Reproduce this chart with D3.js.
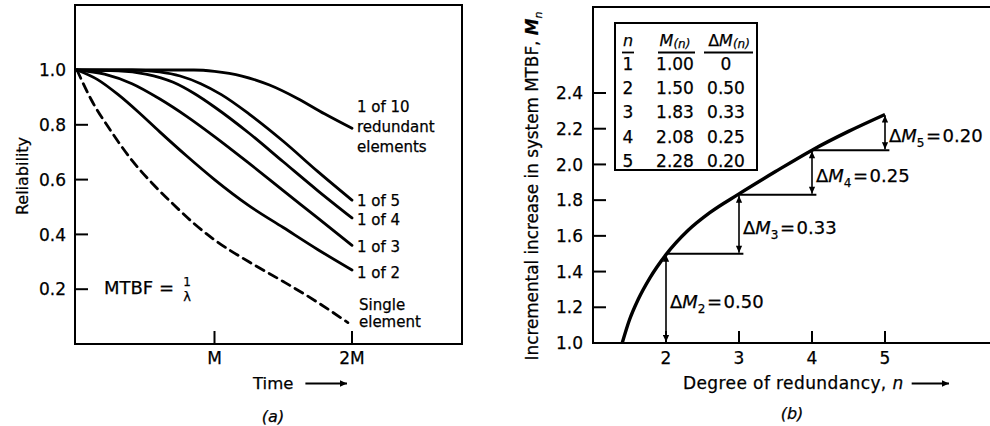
<!DOCTYPE html>
<html><head><meta charset="utf-8">
<script src="https://cdn.jsdelivr.net/npm/d3@7"></script>
<style>
body{margin:0;background:#fff}
svg{display:block}
text{font-family:"DejaVu Sans",sans-serif;fill:#000;stroke:#000;stroke-width:0.25px}
</style>
</head><body>
<svg id="c" width="990" height="426"></svg>
<script>
// ---------- Chart (a) data ----------
const relTicks = [0.2, 0.4, 0.6, 0.8, 1.0];
const timeTicks = [1, 2];
const timeTickLabels = ["M", "2M"];

const t1of10 = [0, 0.5, 0.85, 1.0, 1.2, 1.4, 1.6, 1.8, 2.0];
const r1of10 = [1, 1, 1, 0.995, 0.978, 0.945, 0.897, 0.84, 0.787];
const t1of5 = [0, 0.4, 0.6, 0.75, 0.9, 1.05, 1.25, 1.5, 1.75, 2.0];
const r1of5 = [1, 1, 0.993, 0.978, 0.95, 0.91, 0.84, 0.74, 0.63, 0.525];
const t1of4 = [0, 0.3, 0.5, 0.7, 0.85, 1.0, 1.25, 1.5, 1.75, 2.0];
const r1of4 = [1, 0.997, 0.985, 0.955, 0.915, 0.865, 0.77, 0.665, 0.56, 0.46];
const t1of3 = [0, 0.2, 0.4, 0.6, 0.8, 1.0, 1.25, 1.5, 1.75, 2.0];
const r1of3 = [1, 0.985, 0.95, 0.895, 0.83, 0.757, 0.66, 0.56, 0.46, 0.36];
const t1of2 = [0, 0.15, 0.3, 0.45, 0.6, 0.8, 1.0, 1.25, 1.5, 1.75, 2.0];
const r1of2 = [1, 0.965, 0.91, 0.845, 0.775, 0.685, 0.6, 0.505, 0.425, 0.345, 0.27];
const tSingle = [0, 0.1, 0.25, 0.4, 0.55, 0.7, 0.85, 1.0, 1.25, 1.5, 1.75, 1.97];
const rSingle = [1, 0.895, 0.775, 0.67, 0.585, 0.51, 0.44, 0.38, 0.30, 0.228, 0.152, 0.078];

const curveLabels = [["1 of 10", "redundant", "elements"], ["1 of 5"], ["1 of 4"], ["1 of 3"], ["1 of 2"], ["Single", "element"]];

// ---------- Chart (b) data ----------
const mTicks = [1.0, 1.2, 1.4, 1.6, 1.8, 2.0, 2.2, 2.4];
const nTicks = [2, 3, 4, 5];
const nValues = [1, 2, 3, 4, 5];
const mValues = [1.00, 1.50, 1.83, 2.08, 2.28];
const dmValues = [0, 0.50, 0.33, 0.25, 0.20];
const curveN = [1.40, 1.50, 1.62, 1.78, 2.0, 2.3, 2.6, 3.0, 3.5, 4.0, 4.5, 5.0];
const curveM = [1.00, 1.13, 1.245, 1.365, 1.495, 1.63, 1.73, 1.835, 1.96, 2.08, 2.185, 2.28];

const svg = d3.select("#c");
const defs = svg.append("defs");
defs.append("marker").attr("id", "ah")
  .attr("viewBox", "0 0 10 10").attr("refX", 10).attr("refY", 5)
  .attr("markerUnits", "userSpaceOnUse").attr("markerWidth", 9).attr("markerHeight", 7)
  .attr("orient", "auto-start-reverse")
  .append("path").attr("d", "M0,0.5 L10,5 L0,9.5 Z").attr("fill", "#000");

// ================= Chart (a) =================
const xL = d3.scaleLinear().domain([0, 2]).range([77, 352]);
const yL = d3.scaleLinear().domain([0, 1]).range([344, 70]);
const gA = svg.append("g");

gA.append("rect").attr("x", 75).attr("y", 5).attr("width", 387).attr("height", 339)
  .attr("fill", "none").attr("stroke", "#000").attr("stroke-width", 2);

relTicks.forEach(v => {
  gA.append("line").attr("x1", 75).attr("x2", 88).attr("y1", yL(v)).attr("y2", yL(v))
    .attr("stroke", "#000").attr("stroke-width", 2);
  gA.append("text").attr("x", 66).attr("y", yL(v)).attr("dy", "0.36em")
    .attr("text-anchor", "end").attr("font-size", 17).text(v.toFixed(1));
});
timeTicks.forEach((v, i) => {
  gA.append("line").attr("x1", xL(v)).attr("x2", xL(v)).attr("y1", yL(0)).attr("y2", yL(0) - 13)
    .attr("stroke", "#000").attr("stroke-width", 2);
  gA.append("text").attr("x", xL(v)).attr("y", 364).attr("text-anchor", "middle")
    .attr("font-size", 17).text(timeTickLabels[i]);
});

const seriesA = [[t1of10, r1of10], [t1of5, r1of5], [t1of4, r1of4], [t1of3, r1of3], [t1of2, r1of2], [tSingle, rSingle]];
const lineA = d3.line().x(d => xL(d[0])).y(d => yL(d[1])).curve(d3.curveMonotoneX);
seriesA.forEach((s, i) => {
  const pts = s[0].map((t, j) => [t, s[1][j]]);
  gA.append("path").attr("d", lineA(pts)).attr("fill", "none").attr("stroke", "#000")
    .attr("stroke-width", 2.8).attr("stroke-linecap", "round")
    .attr("stroke-dasharray", i === 5 ? "9,6" : null);
});

// curve labels
const labelY = [[107, 127, 147], [201], [220], [247], [273], [305, 322]];
curveLabels.forEach((lines, i) => {
  lines.forEach((txt, j) => {
    gA.append("text").attr("x", i === 5 ? 359 : 357).attr("y", labelY[i][j]).attr("dy", "0.36em")
      .attr("font-size", 15).text(txt);
  });
});

gA.append("text").attr("transform", "translate(22,176) rotate(-90)").attr("text-anchor", "middle")
  .attr("dy", "0.36em").attr("font-size", 16).text("Reliability");

gA.append("text").attr("x", 104).attr("y", 294).attr("font-size", 18).text("MTBF =");
gA.append("text").attr("x", 187).attr("y", 286).attr("text-anchor", "middle").attr("font-size", 12).text("1");
gA.append("text").attr("x", 187).attr("y", 301).attr("text-anchor", "middle").attr("font-size", 13).text("λ");

const timeT = gA.append("text").attr("x", 253).attr("y", 389).attr("font-size", 16.5).text("Time");
const tw = timeT.node().getComputedTextLength();
gA.append("line").attr("x1", 253 + tw + 12).attr("x2", 347).attr("y1", 383.5).attr("y2", 383.5)
  .attr("stroke", "#000").attr("stroke-width", 1.8).attr("marker-end", "url(#ah)");
gA.append("text").attr("x", 273).attr("y", 422).attr("text-anchor", "middle")
  .attr("font-size", 16).attr("font-style", "italic").text("(a)");

// ================= Chart (b) =================
const xR = d3.scaleLinear().domain([1, 5]).range([593, 885]);
const yR = d3.scaleLinear().domain([1.0, 2.4]).range([343, 93]);
const gB = svg.append("g");
const left = xR(1), bot = yR(1.0);

gB.append("path").attr("d", `M990,7 H${left} V${bot} H990`).attr("fill", "none")
  .attr("stroke", "#000").attr("stroke-width", 2);

mTicks.forEach(v => {
  gB.append("line").attr("x1", left).attr("x2", left + 13).attr("y1", yR(v)).attr("y2", yR(v))
    .attr("stroke", "#000").attr("stroke-width", 2);
  gB.append("text").attr("x", 583).attr("y", yR(v)).attr("dy", "0.36em").attr("text-anchor", "end")
    .attr("font-size", 17).text(v.toFixed(1));
});
nTicks.forEach(v => {
  gB.append("line").attr("x1", xR(v)).attr("x2", xR(v)).attr("y1", bot).attr("y2", bot - 12)
    .attr("stroke", "#000").attr("stroke-width", 2);
  gB.append("text").attr("x", xR(v)).attr("y", 364).attr("text-anchor", "middle")
    .attr("font-size", 17).text(v);
});

// curve
const lineB = d3.line().x(d => xR(d[0])).y(d => yR(d[1])).curve(d3.curveMonotoneX);
gB.append("path").attr("d", lineB(curveN.map((n, i) => [n, curveM[i]])))
  .attr("fill", "none").attr("stroke", "#000").attr("stroke-width", 3.4);

// steps and arrows
for (let i = 1; i < nValues.length; i++) {
  const n = nValues[i];
  if (i < nValues.length - 1) {
    gB.append("line").attr("x1", xR(n)).attr("x2", xR(n + 1.06)).attr("y1", yR(mValues[i])).attr("y2", yR(mValues[i]))
      .attr("stroke", "#000").attr("stroke-width", 2);
  }
  gB.append("line").attr("x1", xR(n)).attr("x2", xR(n))
    .attr("y1", yR(mValues[i - 1]) - 1).attr("y2", yR(mValues[i]) + 1)
    .attr("stroke", "#000").attr("stroke-width", 1.6)
    .attr("marker-start", "url(#ah)").attr("marker-end", "url(#ah)");
  const t = gB.append("text").attr("x", xR(n) + 4)
    .attr("y", yR((mValues[i - 1] + mValues[i]) / 2) + 3).attr("dy", "0.36em").attr("font-size", 18);
  t.append("tspan").text("Δ");
  t.append("tspan").attr("font-style", "italic").text("M");
  t.append("tspan").attr("font-size", 12).attr("dy", 5).text(n);
  t.append("tspan").attr("dy", -5).attr("dx", 1.5).text("=");
  t.append("tspan").attr("dx", 1.5).text(dmValues[i].toFixed(2));
}

// table
gB.append("rect").attr("x", 615).attr("y", 23).attr("width", 142).attr("height", 147)
  .attr("fill", "none").attr("stroke", "#000").attr("stroke-width", 2);
const colX = [628, 675, 726];
gB.append("text").attr("x", colX[0]).attr("y", 46).attr("text-anchor", "middle")
  .attr("font-size", 16).attr("font-style", "italic").text("n");
const h2 = gB.append("text").attr("x", colX[1]).attr("y", 46).attr("text-anchor", "middle")
  .attr("font-size", 16).attr("font-style", "italic");
h2.append("tspan").text("M");
h2.append("tspan").attr("font-size", 12).attr("dy", 2).text("(n)");
const h3 = gB.append("text").attr("x", colX[2] + 3).attr("y", 46).attr("text-anchor", "middle")
  .attr("font-size", 16).attr("font-style", "italic");
h3.append("tspan").attr("font-style", "normal").text("Δ");
h3.append("tspan").text("M");
h3.append("tspan").attr("font-size", 12).attr("dy", 2).text("(n)");
[[622, 634], [658, 695], [704, 753]].forEach(u => {
  gB.append("line").attr("x1", u[0]).attr("x2", u[1]).attr("y1", 52.5).attr("y2", 52.5)
    .attr("stroke", "#000").attr("stroke-width", 1.8);
});
nValues.forEach((n, i) => {
  const y = 70 + i * 24.2;
  gB.append("text").attr("x", colX[0]).attr("y", y).attr("text-anchor", "middle").attr("font-size", 17).text(n);
  gB.append("text").attr("x", colX[1]).attr("y", y).attr("text-anchor", "middle").attr("font-size", 17).text(mValues[i].toFixed(2));
  gB.append("text").attr("x", colX[2]).attr("y", y).attr("text-anchor", "middle").attr("font-size", 17)
    .text(i === 0 ? "0" : dmValues[i].toFixed(2));
});

// axis titles
const yt = gB.append("text").attr("transform", "translate(532,186) rotate(-90)").attr("text-anchor", "middle")
  .attr("dy", "0.36em").attr("font-size", 16.8);
yt.append("tspan").text("Incremental increase in system MTBF, ");
yt.append("tspan").attr("font-style", "italic").attr("font-weight", "bold").text("M");
yt.append("tspan").attr("font-style", "italic").attr("font-size", 11).attr("dy", 4).text("n");

const xt = gB.append("text").attr("x", 683).attr("y", 389).attr("font-size", 17).attr("letter-spacing", 0.4);
xt.append("tspan").text("Degree of redundancy, ");
xt.append("tspan").attr("font-style", "italic").text("n");
const xw = xt.node().getComputedTextLength();
gB.append("line").attr("x1", 683 + xw + 8).attr("x2", 949).attr("y1", 383.5).attr("y2", 383.5)
  .attr("stroke", "#000").attr("stroke-width", 1.8).attr("marker-end", "url(#ah)");
gB.append("text").attr("x", 792).attr("y", 419).attr("text-anchor", "middle")
  .attr("font-size", 16).attr("font-style", "italic").text("(b)");
</script>
</body></html>
